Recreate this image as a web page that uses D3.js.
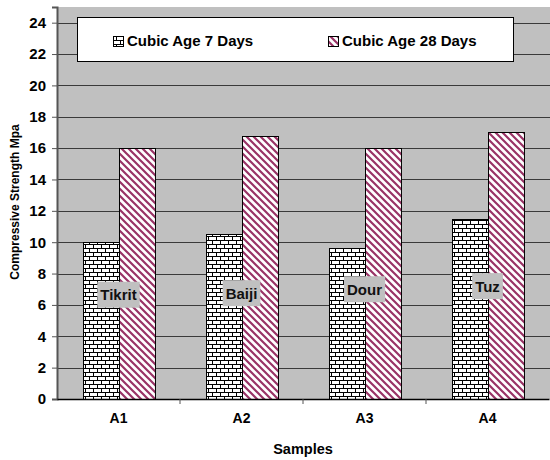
<!DOCTYPE html>
<html><head><meta charset="utf-8">
<script src="https://cdn.jsdelivr.net/npm/d3@7"></script>
<style>body{margin:0;background:#fff}svg{display:block;font-family:Arial,"Liberation Sans",sans-serif;font-weight:bold}</style>
</head><body>
<script>
const categories = ["A1","A2","A3","A4"];
const series = ["Cubic Age 7 Days","Cubic Age 28 Days"];
const age7 = [10, 10.5, 9.6, 11.5];
const age28 = [16, 16.8, 16, 17];
const sampleNames = ["Tikrit","Baiji","Dour","Tuz"];
const sampleLabelLevel = [6.65, 6.75, 7.0, 7.2];
const yTicks = [0,2,4,6,8,10,12,14,16,18,20,22,24];

const W=550,H=460;
const m={l:57,t:7,b:61};
const svg=d3.select("body").append("svg").attr("width",W).attr("height",H);
const defs=svg.append("defs");
// brick pattern
const pb=defs.append("pattern").attr("id","brick").attr("patternUnits","userSpaceOnUse").attr("width",8).attr("height",8);
pb.append("rect").attr("width",8).attr("height",8).attr("fill","#fff");
pb.append("path").attr("d","M0,0.5H8M0,4.5H8M0.5,0.5V4.5M4.5,4.5V8.5").attr("stroke","#000").attr("stroke-width",1).attr("fill","none");
// diagonal pattern
const pd=defs.append("pattern").attr("id","diag").attr("patternUnits","userSpaceOnUse").attr("width",7).attr("height",7);
pd.append("rect").attr("width",7).attr("height",7).attr("fill","#fff");
pd.append("path").attr("d","M-2,-2L9,9M-2,5L2,9M5,-2L9,2").attr("stroke","#993366").attr("stroke-width",2.2).attr("fill","none");

const x=d3.scaleBand().domain(categories).range([m.l,m.l+4*123]);
const y=d3.scaleLinear().domain([0,25]).range([H-m.b,m.t]);
const x1=d3.scaleBand().domain(series).range([0,x.bandwidth()]).paddingOuter(0.71).paddingInner(0);

// plot background
svg.append("rect").attr("x",m.l).attr("y",y(25)).attr("width",W-m.l).attr("height",y(0)-y(25)).attr("fill","#c0c0c0");
// gridlines
svg.append("g").selectAll("line").data(yTicks.filter(d=>d>0)).join("line")
 .attr("x1",m.l).attr("x2",W).attr("y1",d=>Math.round(y(d))+0.5).attr("y2",d=>Math.round(y(d))+0.5)
 .attr("stroke","#3a3a3a").attr("stroke-width",1);

// bars
const data=categories.map((c,i)=>({c,vals:[{s:series[0],v:age7[i]},{s:series[1],v:age28[i]}]}));
const g=svg.append("g").selectAll("g").data(data).join("g").attr("transform",d=>`translate(${x(d.c)},0)`);
g.selectAll("rect").data(d=>d.vals).join("rect")
 .attr("x",d=>Math.round(x1(d.s))+0.5).attr("y",d=>Math.round(y(d.v))+0.5)
 .attr("width",x1.bandwidth()).attr("height",d=>Math.round(y(0))-Math.round(y(d.v)))
 .attr("fill",d=>d.s===series[0]?"url(#brick)":"url(#diag)").attr("stroke","#000").attr("stroke-width",1);

// sample labels
const lab=svg.append("g").selectAll("g").data(categories).join("g")
 .attr("transform",(c,i)=>`translate(${x(c)+x.bandwidth()/2},${y(sampleLabelLevel[i])})`);
lab.append("text").text((c,i)=>sampleNames[i]).attr("text-anchor","middle").attr("dy","0.36em")
 .attr("font-size",15).attr("fill","#111").each(function(){
   const b=this.getBBox();
   d3.select(this.parentNode).insert("rect","text").attr("x",b.x-3).attr("y",-13).attr("width",b.width+6).attr("height",26).attr("fill","#c0c0c0");
 });

// axes
const ya=svg.append("g").attr("transform",`translate(${m.l},0)`)
 .call(d3.axisLeft(y).tickValues(yTicks).tickSize(5).tickPadding(6));
ya.select(".domain").attr("stroke","#555").attr("stroke-width",2);
ya.selectAll(".tick line").attr("stroke","#555");
ya.selectAll("text").attr("font-size",15).attr("font-weight","bold").attr("fill","#000").attr("font-family","Arial,'Liberation Sans',sans-serif");

const xa=svg.append("g").attr("transform",`translate(0,${y(0)})`)
 .call(d3.axisBottom(x).tickSize(0).tickPadding(14));
xa.select(".domain").attr("stroke","#000").attr("stroke-width",1.5);
xa.selectAll("text").attr("font-size",14).attr("font-weight","bold").attr("fill","#000").attr("font-family","Arial,'Liberation Sans',sans-serif");
svg.append("g").selectAll("line").data(categories.slice(1)).join("line")
 .attr("x1",c=>x(c)).attr("x2",c=>x(c)).attr("y1",y(0)).attr("y2",y(0)+5).attr("stroke","#555");

// axis titles
svg.append("text").attr("x",303).attr("y",454).attr("text-anchor","middle").attr("font-size",14.5).text("Samples");
svg.append("text").attr("transform","translate(19,202) rotate(-90)").attr("text-anchor","middle").attr("font-size",12).text("Compressive Strength Mpa");

// legend
const lg=svg.append("g");
lg.append("rect").attr("x",77.5).attr("y",17.5).attr("width",436).attr("height",44).attr("fill","#fff").attr("stroke","#000").attr("stroke-width",1);
const items=[{s:series[0],x:113,f:"url(#brick)"},{s:series[1],x:328,f:"url(#diag)"}];
items.forEach(it=>{
  lg.append("rect").attr("x",it.x+0.5).attr("y",36.5).attr("width",10).attr("height",10).attr("fill",it.f).attr("stroke","#000");
  lg.append("text").attr("x",it.x+14).attr("y",46).attr("font-size",15).text(it.s);
});
</script>
</body></html>
